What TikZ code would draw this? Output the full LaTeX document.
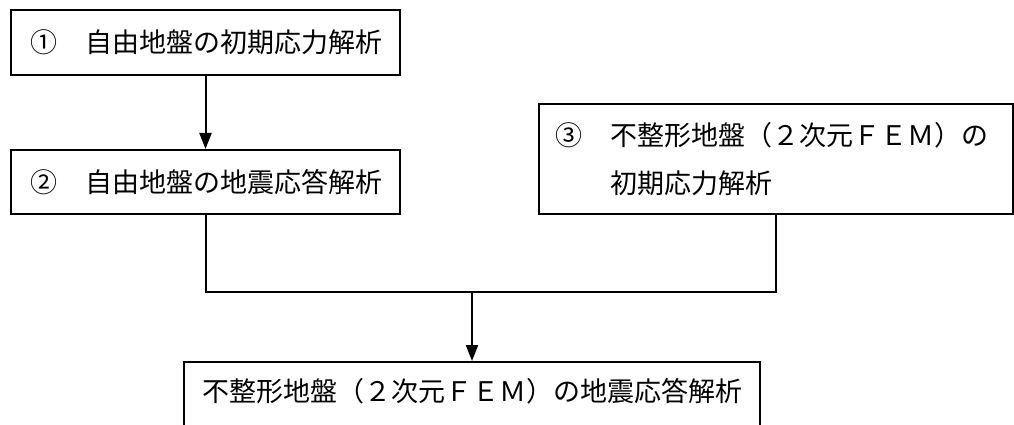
\documentclass[tikz,border=0pt]{standalone}
\usepackage{fontspec}
\newfontfamily\jpfont{Noto Sans CJK JP}
\usetikzlibrary{arrows.meta}

\begin{document}
\begin{tikzpicture}[x=1pt,y=-1pt,line width=2pt,
  box/.style={draw,anchor=north west,align=left,inner ysep=0pt,
    font=\jpfont\fontsize{27}{48}\selectfont},
  flow/.style={-{Triangle[length=16pt,width=12pt]}}]
  \useasboundingbox (0,0) rectangle (1014,425);

  \node[box,text width=351pt,inner xsep=19pt,minimum height=65pt] (b1) at (10,9)
    {\mbox{①\hspace{1.05em}自由地盤の初期応力解析}};
  \node[box,text width=351pt,inner xsep=19pt,minimum height=64pt] (b2) at (10,149)
    {\mbox{②\hspace{1.05em}自由地盤の地震応答解析}};
  \node[box,text width=442pt,inner xsep=16pt,minimum height=110pt] (b3) at (538,103)
    {③\hspace{1.05em}不整形地盤（２次元ＦＥＭ）の\\
     \phantom{③}\hspace{1.05em}初期応力解析};
  \node[box,align=center,text width=560pt,inner xsep=8pt,inner ysep=9pt,
    text height=30pt,text depth=60pt] (b4) at (183,361)
    {不整形地盤（２次元ＦＥＭ）の地震応答解析};

  \coordinate (j) at (b4.north |- 0,292);

  \draw[flow] (b1.south) -- (b2.north);
  \draw (b2.south) |- (j) -| (b3.south);
  \draw[flow] (j) -- (b4.north);
\end{tikzpicture}
\end{document}
